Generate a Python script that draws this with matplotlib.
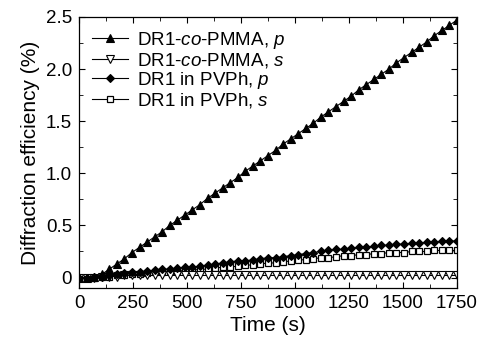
import matplotlib
matplotlib.use("Agg")
import matplotlib.pyplot as plt
from matplotlib.ticker import MultipleLocator, FuncFormatter

plt.rcParams['font.family'] = ['Liberation Sans', 'DejaVu Sans']
plt.rcParams['mathtext.fontset'] = 'custom'
plt.rcParams['mathtext.rm'] = 'Liberation Sans'
plt.rcParams['mathtext.it'] = 'Liberation Sans:italic'

# time axis (s), one point every 35 s
time = [35 * i for i in range(51)]

copmma_p = [0.00, 0.00, 0.01, 0.03,
            0.08, 0.13, 0.18, 0.24, 0.29, 0.34, 0.39, 0.44, 0.50, 0.55,
            0.60, 0.65, 0.70, 0.76, 0.81, 0.86, 0.91, 0.96, 1.02, 1.07,
            1.12, 1.17, 1.22, 1.28, 1.33, 1.38, 1.43, 1.48, 1.54, 1.59,
            1.64, 1.69, 1.74, 1.80, 1.85, 1.90, 1.95, 2.00, 2.06, 2.11,
            2.16, 2.21, 2.26, 2.32, 2.37, 2.42, 2.47]
copmma_s = [0.00, 0.00, 0.00, 0.01, 0.01, 0.01,
            0.02, 0.02, 0.02, 0.02, 0.02, 0.02, 0.02, 0.02, 0.02, 0.02,
            0.02, 0.02, 0.02, 0.02, 0.02, 0.02, 0.02, 0.02, 0.02, 0.02,
            0.02, 0.02, 0.02, 0.02, 0.02, 0.02, 0.02, 0.02, 0.02, 0.02,
            0.02, 0.02, 0.02, 0.02, 0.02, 0.02, 0.02, 0.02, 0.02, 0.02,
            0.02, 0.02, 0.02, 0.02, 0.02]
pvph_p = [0.00, 0.00, 0.01, 0.01, 0.02, 0.03, 0.04, 0.05, 0.05, 0.06,
          0.07, 0.08, 0.08, 0.09, 0.10, 0.10, 0.11, 0.12, 0.13, 0.14,
          0.15, 0.16, 0.16, 0.17, 0.18, 0.19, 0.19, 0.20, 0.21, 0.22,
          0.23, 0.24, 0.25, 0.26, 0.27, 0.27, 0.28, 0.29, 0.29, 0.30,
          0.31, 0.31, 0.32, 0.32, 0.33, 0.33, 0.34, 0.34, 0.35, 0.35, 0.35]
pvph_s = [0.00, 0.00, 0.00, 0.01, 0.01, 0.02, 0.02, 0.03, 0.03, 0.04,
          0.05, 0.05, 0.06, 0.06, 0.07, 0.07, 0.08, 0.08, 0.09, 0.10,
          0.10, 0.11, 0.12, 0.12, 0.13, 0.14, 0.14, 0.15, 0.16, 0.17,
          0.17, 0.18, 0.19, 0.19, 0.20, 0.21, 0.21, 0.22, 0.22, 0.23,
          0.23, 0.24, 0.24, 0.24, 0.25, 0.25, 0.25, 0.26, 0.26, 0.26, 0.26]

fig = plt.figure(figsize=(4.79, 3.38), dpi=100)
ax = fig.add_axes([0.165, 0.148, 0.789, 0.802])

ax.plot(time, pvph_s, color='black', lw=0.8, marker='s', markersize=5,
        markerfacecolor='white', markeredgewidth=0.9,
        label=r'DR1 in PVPh, $\it{s}$', zorder=2)
ax.plot(time, pvph_p, color='black', lw=0.8, marker='D', markersize=4.5,
        markerfacecolor='black', markeredgewidth=0.8,
        label=r'DR1 in PVPh, $\it{p}$', zorder=3)
ax.plot(time, copmma_s, color='black', lw=0.8, marker='v', markersize=5.5,
        markerfacecolor='white', markeredgewidth=0.8,
        label=r'DR1-$\it{co}$-PMMA, $\it{s}$', zorder=2)
ax.plot(time, copmma_p, color='black', lw=0.8, marker='^', markersize=6,
        markerfacecolor='black', markeredgewidth=0.8,
        label=r'DR1-$\it{co}$-PMMA, $\it{p}$', zorder=4)

ax.set_xlim(0, 1750)
ax.set_ylim(-0.1, 2.5)
ax.xaxis.set_major_locator(MultipleLocator(250))
ax.xaxis.set_minor_locator(MultipleLocator(125))
ax.yaxis.set_major_locator(MultipleLocator(0.5))
ax.yaxis.set_minor_locator(MultipleLocator(0.25))
ax.yaxis.set_major_formatter(FuncFormatter(lambda v, p: '0' if abs(v) < 1e-9 else '%.1f' % v))
ax.tick_params(which='both', direction='in', top=True, right=True, labelsize=13.5, pad=5)
ax.tick_params(which='major', length=4)
ax.tick_params(which='minor', length=3)
for s in ax.spines.values():
    s.set_linewidth(0.9)

ax.set_xlabel('Time (s)', fontsize=15, labelpad=3)
ax.set_ylabel('Diffraction efficiency (%)', fontsize=15, labelpad=4)

h, l = ax.get_legend_handles_labels()
order = [3, 2, 1, 0]
ax.legend([h[i] for i in order], [l[i] for i in order], loc='upper left',
          frameon=False, fontsize=13.5, handlelength=1.9, handletextpad=0.5,
          labelspacing=0.0, borderaxespad=0.5, borderpad=0.2)

fig.savefig('out.png', dpi=100)
